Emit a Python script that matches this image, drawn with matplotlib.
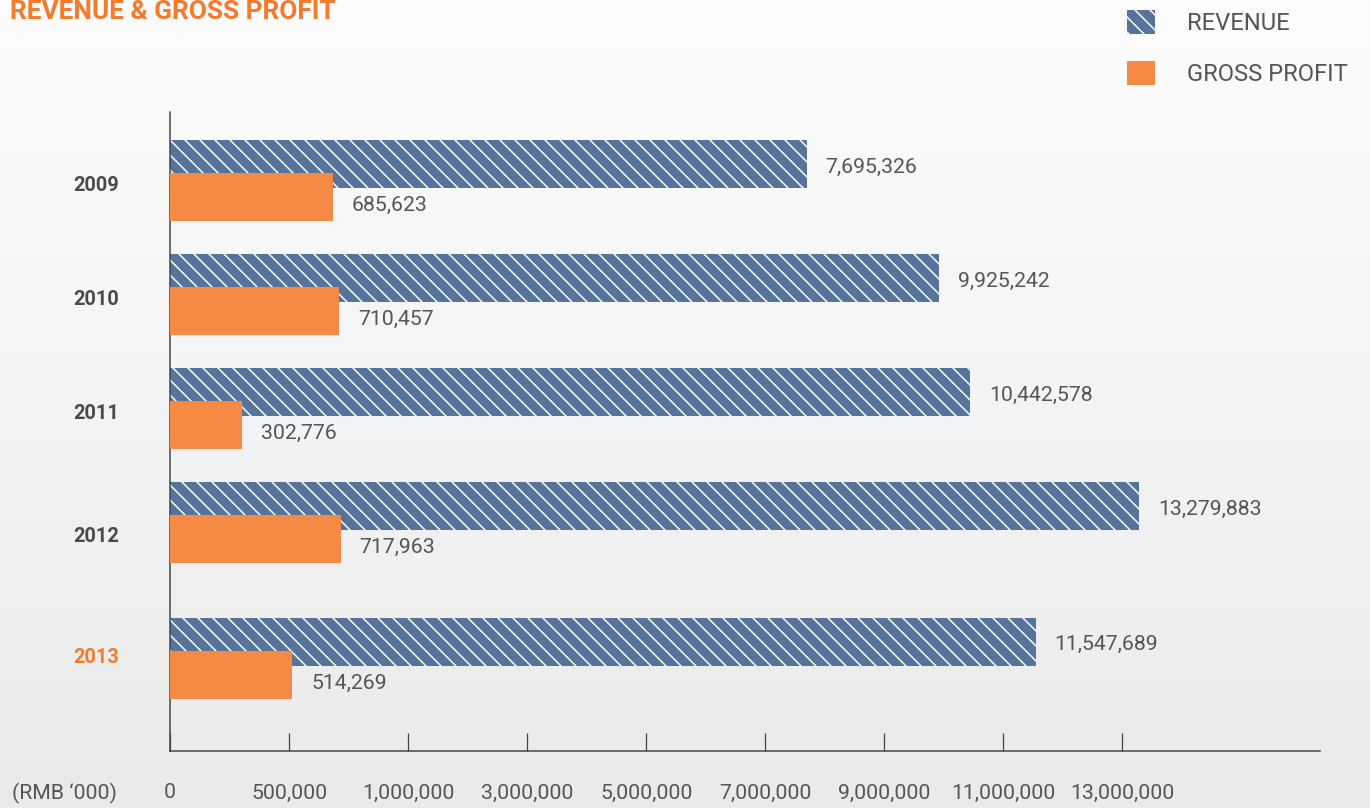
import numpy as np
import matplotlib
matplotlib.use('Agg')
import matplotlib.pyplot as plt
from matplotlib.patches import Patch
from matplotlib.ticker import FuncFormatter

years = ['2009', '2010', '2011', '2012', '2013']
revenue = [7695326, 9925242, 10442578, 13279883, 11547689]
gross_profit = [685623, 710457, 302776, 717963, 514269]
tick_values = [0, 500000, 1000000, 3000000, 5000000, 7000000,
               9000000, 11000000, 13000000]

BLUE = '#56739b'
ORANGE = '#f68a45'
TEXT = '#555555'

# piecewise linear axis: equal steps between uneven tick values
scale_x = [-500000] + tick_values + [15000000, 17000000]
scale_u = list(range(-1, len(tick_values) + 2))


def forward(v):
    return np.interp(v, scale_x, scale_u)


def inverse(u):
    return np.interp(u, scale_u, scale_x)


def main():
    plt.rcParams['font.family'] = ['Roboto', 'DejaVu Sans']
    plt.rcParams['hatch.linewidth'] = 1.2
    dpi = 90
    W, H = 1370, 808
    fig = plt.figure(figsize=(W / dpi, H / dpi), dpi=dpi)

    # light grey background gradient
    bg = fig.add_axes([0, 0, 1, 1], zorder=-5)
    grad = np.linspace(0, 1, 200)[:, None] * np.ones((1, 10))
    bg.imshow(grad, cmap=matplotlib.colors.LinearSegmentedColormap.from_list(
        'bg', ['#fcfcfc', '#f3f4f5', '#eaeaea']), aspect='auto',
        extent=[0, 1, 0, 1], origin='upper')
    bg.axis('off')

    ax = fig.add_axes([170 / W, 57 / H, 1150 / W, 639 / H])
    ax.set_facecolor('none')
    ax.set_xscale('function', functions=(forward, inverse))

    step = 114.0
    pos = np.arange(len(years)) + np.array([0, 0, 0, 0, 0.19])
    bar_h = 48 / step
    off = 33 / step

    ax.barh(pos, revenue, height=bar_h, color=BLUE, hatch='\\\\',
            edgecolor='white', linewidth=0, zorder=2)
    ax.barh(pos + off, gross_profit, height=bar_h, color=ORANGE,
            edgecolor='none', linewidth=0, zorder=3)

    for p, r, g in zip(pos, revenue, gross_profit):
        ax.annotate(f'{r:,}', (r, p), xytext=(15, -2.5),
                    textcoords='offset points', ha='left', va='center',
                    fontsize=17, color=TEXT)
        ax.annotate(f'{g:,}', (g, p + off), xytext=(15, -7),
                    textcoords='offset points', ha='left', va='center',
                    fontsize=17, color=TEXT)

    ax.set_xlim(0, 16320000)
    ax.set_ylim((751 - 164) / step, -(164 - 112) / step)

    ax.set_xticks(tick_values)
    ax.xaxis.set_major_formatter(FuncFormatter(lambda v, _: f'{int(round(v)):,}'))
    ax.tick_params(axis='x', direction='in', length=14.5, width=1,
                   color='#444444', pad=26, labelsize=17, labelcolor=TEXT)

    nudge = np.array([0, 0, 0, 0.08, -0.05])
    ax.set_yticks(pos + 0.17 + nudge)
    ax.set_yticklabels(years, fontsize=16, fontweight='bold', color='#4a4a4a')
    ax.get_yticklabels()[-1].set_color('#f47a2c')
    ax.tick_params(axis='y', length=0, pad=41)

    for s in ['top', 'right']:
        ax.spines[s].set_visible(False)
    for s in ['left', 'bottom']:
        ax.spines[s].set_color('#444444')
        ax.spines[s].set_linewidth(1.2)

    fig.text(12 / W, 1 - 793 / H, '(RMB \u2018000)', fontsize=17,
             color=TEXT, ha='left', va='center')
    fig.text(10 / W, 1 - 12 / H, 'REVENUE & GROSS PROFIT', fontsize=21,
             fontweight='bold', color='#f47a2c', ha='left', va='center')

    handles = [Patch(facecolor=BLUE, hatch='\\\\', edgecolor='white', linewidth=0),
               Patch(facecolor=ORANGE, edgecolor='none')]
    fig.legend(handles, ['REVENUE', 'GROSS PROFIT'], loc='upper left',
               bbox_to_anchor=(1127 / W, 1 - 10 / H), frameon=False,
               fontsize=19, labelcolor=TEXT, handlelength=1.18,
               handleheight=1.18, handletextpad=1.35, labelspacing=1.1,
               borderpad=0, borderaxespad=0)

    plt.savefig('out.png', dpi=dpi)


if __name__ == '__main__':
    main()
